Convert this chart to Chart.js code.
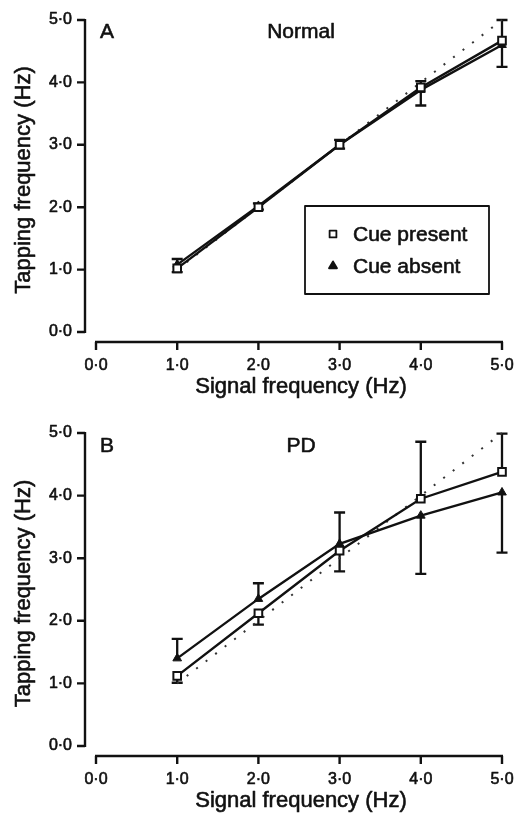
<!DOCTYPE html>
<html>
<head>
<meta charset="utf-8">
<title>Tapping frequency vs signal frequency</title>
<script src="https://cdn.jsdelivr.net/npm/chart.js@4.4.0/dist/chart.umd.min.js"></script>
<style>
    html, body { margin: 0; padding: 0; background: #fff; }
    canvas { display: block; }
</style>
</head>
<body>
<canvas id="chart-a" width="518" height="400"></canvas>
<canvas id="chart-b" width="518" height="416"></canvas>
<script>
/* Data */
const signalHz = [1.0, 2.0, 3.0, 4.0, 5.0];
const unityLine = [1.0, 2.0, 3.0, 4.0, 5.0];   // dotted: tapping == signal
const tickValues = [0, 1, 2, 3, 4, 5];
const tickLabels = ['0·0', '1·0', '2·0', '3·0', '4·0', '5·0'];

// Panel A - normal subjects (bar arrays = end of the one-sided SD bar)
const normalPresent    = [1.02, 2.00, 3.00, 3.92, 4.67];
const normalPresentBar = [0.96, 1.96, 2.94, 4.02, 5.00];
const normalAbsent     = [1.08, 2.02, 3.00, 3.88, 4.60];
const normalAbsentBar  = [1.17, 2.06, 3.08, 3.63, 4.25];

// Panel B - PD patients
const pdPresent    = [1.12, 2.12, 3.12, 3.95, 4.38];
const pdPresentBar = [1.01, 1.94, 2.79, 4.86, 4.99];
const pdAbsent     = [1.40, 2.35, 3.23, 3.68, 4.05];
const pdAbsentBar  = [1.71, 2.60, 3.73, 2.75, 3.09];

const INK = '#111';
const FONT = '"Liberation Sans", Arial, Helvetica, sans-serif';

const toPoints = (xs, ys) => xs.map((v, i) => ({ x: v, y: ys[i] }));

// print-style text: fill plus a hairline stroke to thicken the glyphs a little
function inkText(ctx, text, x, y) {
    ctx.fillText(text, x, y);
    ctx.strokeText(text, x, y);
}

/**
 * errorBars
 * One-sided SD bars with caps, drawn under the markers.
 */
const errorBars = {
    id: 'errorBars',
    beforeDatasetsDraw(chart) {
        const { ctx, scales: { x, y } } = chart;
        ctx.save();
        ctx.strokeStyle = INK;
        ctx.lineWidth = 2.3;
        chart.data.datasets.forEach(ds => {
            if (!ds.barEnd) return;
            ds.data.forEach((p, i) => {
                const px = x.getPixelForValue(p.x);
                const y0 = y.getPixelForValue(p.y);
                const y1 = y.getPixelForValue(ds.barEnd[i]);
                ctx.beginPath();
                ctx.moveTo(px, y0);
                ctx.lineTo(px, y1);
                ctx.moveTo(px - 5.5, y1);
                ctx.lineTo(px + 5.5, y1);
                ctx.stroke();
            });
        });
        ctx.restore();
    }
};

/**
 * paperAxes
 * Offset axes in the journal style, titles, panel letter and legend box.
 */
const paperAxes = {
    id: 'paperAxes',
    afterDraw(chart, args, opts) {
        const { ctx, chartArea, scales: { x, y } } = chart;
        const lo = tickValues[0];
        const hi = tickValues[tickValues.length - 1];
        const axX = chartArea.left - 11;    // y axis stands left of x = 0
        const axY = chartArea.bottom + 10;  // x axis lies below y = 0

        ctx.save();
        ctx.strokeStyle = INK;
        ctx.fillStyle = INK;
        ctx.lineWidth = 2.4;

        // y axis + ticks
        ctx.beginPath();
        ctx.moveTo(axX, y.getPixelForValue(hi) - 1);
        ctx.lineTo(axX, y.getPixelForValue(lo) + 1);
        tickValues.forEach(v => {
            const py = y.getPixelForValue(v);
            ctx.moveTo(axX - 8, py);
            ctx.lineTo(axX, py);
        });
        // x axis + ticks
        ctx.moveTo(x.getPixelForValue(lo) - 1, axY);
        ctx.lineTo(x.getPixelForValue(hi) + 1, axY);
        tickValues.forEach(v => {
            const px = x.getPixelForValue(v);
            ctx.moveTo(px, axY);
            ctx.lineTo(px, axY + 8);
        });
        ctx.stroke();

        ctx.lineWidth = 0.6;
        ctx.lineJoin = 'round';

        // tick labels
        ctx.font = '16px ' + FONT;
        ctx.textBaseline = 'middle';
        ctx.textAlign = 'right';
        tickValues.forEach((v, i) => inkText(ctx, tickLabels[i], axX - 13, y.getPixelForValue(v)));
        ctx.textAlign = 'center';
        tickValues.forEach((v, i) => inkText(ctx, tickLabels[i], x.getPixelForValue(v), axY + 24));

        // axis titles
        ctx.font = '22px ' + FONT;
        inkText(ctx, 'Signal frequency (Hz)', (chartArea.left + chartArea.right) / 2 + 2, axY + 45);
        ctx.save();
        ctx.translate(24, (chartArea.top + chartArea.bottom) / 2 + 4);
        ctx.rotate(-Math.PI / 2);
        inkText(ctx, 'Tapping frequency (Hz)', 0, 0);
        ctx.restore();

        // panel letter and group name
        ctx.font = '21px ' + FONT;
        ctx.textAlign = 'left';
        inkText(ctx, opts.letter, chartArea.left + 4, chartArea.top + opts.labelDy);
        ctx.textAlign = 'center';
        inkText(ctx, opts.group, chartArea.left + 205, chartArea.top + opts.labelDy);

        // legend box (panel A only)
        if (opts.legend) {
            const bx = 305, by = 206, bw = 184, bh = 88;
            ctx.lineWidth = 1.8;
            ctx.strokeRect(bx, by, bw, bh);
            const items = chart.data.datasets.filter(ds => ds.inLegend);
            ctx.font = '21px ' + FONT;
            ctx.textAlign = 'left';
            items.forEach((ds, i) => {
                const cy = by + 28 + i * 32;
                ctx.fillStyle = ds.pointBackgroundColor;
                ctx.strokeStyle = INK;
                ctx.lineWidth = 1.8;
                Chart.helpers.drawPoint(ctx, {
                    pointStyle: ds.pointStyle,
                    radius: ds.pointStyle === 'rect' ? 4.8 : 4.6,
                    borderWidth: 1.8,
                    rotation: 0
                }, bx + 28, cy);
                ctx.fillStyle = INK;
                ctx.lineWidth = 0.6;
                inkText(ctx, ds.label, bx + 48, cy + 1);
            });
        }
        ctx.restore();
    }
};

function makePanel(canvasId, present, presentBar, absent, absentBar, panel) {
    const canvas = document.getElementById(canvasId);
    return new Chart(canvas, {
        type: 'line',
        data: {
            datasets: [
                {
                    label: 'Cue present',
                    inLegend: true,
                    data: toPoints(signalHz, present),
                    barEnd: presentBar,
                    borderColor: INK,
                    borderWidth: 2.4,
                    pointStyle: 'rect',
                    pointRadius: 5.4,
                    pointBackgroundColor: '#fff',
                    pointBorderColor: INK,
                    pointBorderWidth: 2,
                    clip: false
                },
                {
                    label: 'Cue absent',
                    inLegend: true,
                    data: toPoints(signalHz, absent),
                    barEnd: absentBar,
                    borderColor: INK,
                    borderWidth: 2.4,
                    pointStyle: 'triangle',
                    pointRadius: 5,
                    pointBackgroundColor: INK,
                    pointBorderColor: INK,
                    pointBorderWidth: 1,
                    clip: false
                },
                {
                    label: 'Unity',
                    data: toPoints(signalHz, unityLine),
                    borderColor: '#333',
                    borderWidth: 2,
                    borderDash: [2, 10],
                    pointRadius: 0,
                    clip: false
                }
            ]
        },
        options: {
            responsive: false,
            animation: false,
            layout: { padding: panel.padding },
            elements: { line: { tension: 0 } },
            scales: {
                x: { type: 'linear', min: tickValues[0], max: tickValues[tickValues.length - 1], display: false },
                y: { type: 'linear', min: tickValues[0], max: tickValues[tickValues.length - 1], display: false }
            },
            plugins: {
                legend: { display: false },
                tooltip: { enabled: false },
                paperAxes: { letter: panel.letter, group: panel.group, legend: panel.legend, labelDy: panel.labelDy }
            }
        },
        plugins: [errorBars, paperAxes]
    });
}

makePanel('chart-a', normalPresent, normalPresentBar, normalAbsent, normalAbsentBar, {
    letter: 'A', group: 'Normal', legend: true, labelDy: 12,
    padding: { left: 96, right: 16, top: 20, bottom: 68 }
});

makePanel('chart-b', pdPresent, pdPresentBar, pdAbsent, pdAbsentBar, {
    letter: 'B', group: 'PD', legend: false, labelDy: 13,
    padding: { left: 96, right: 16, top: 33, bottom: 70 }
});
</script>
</body>
</html>
